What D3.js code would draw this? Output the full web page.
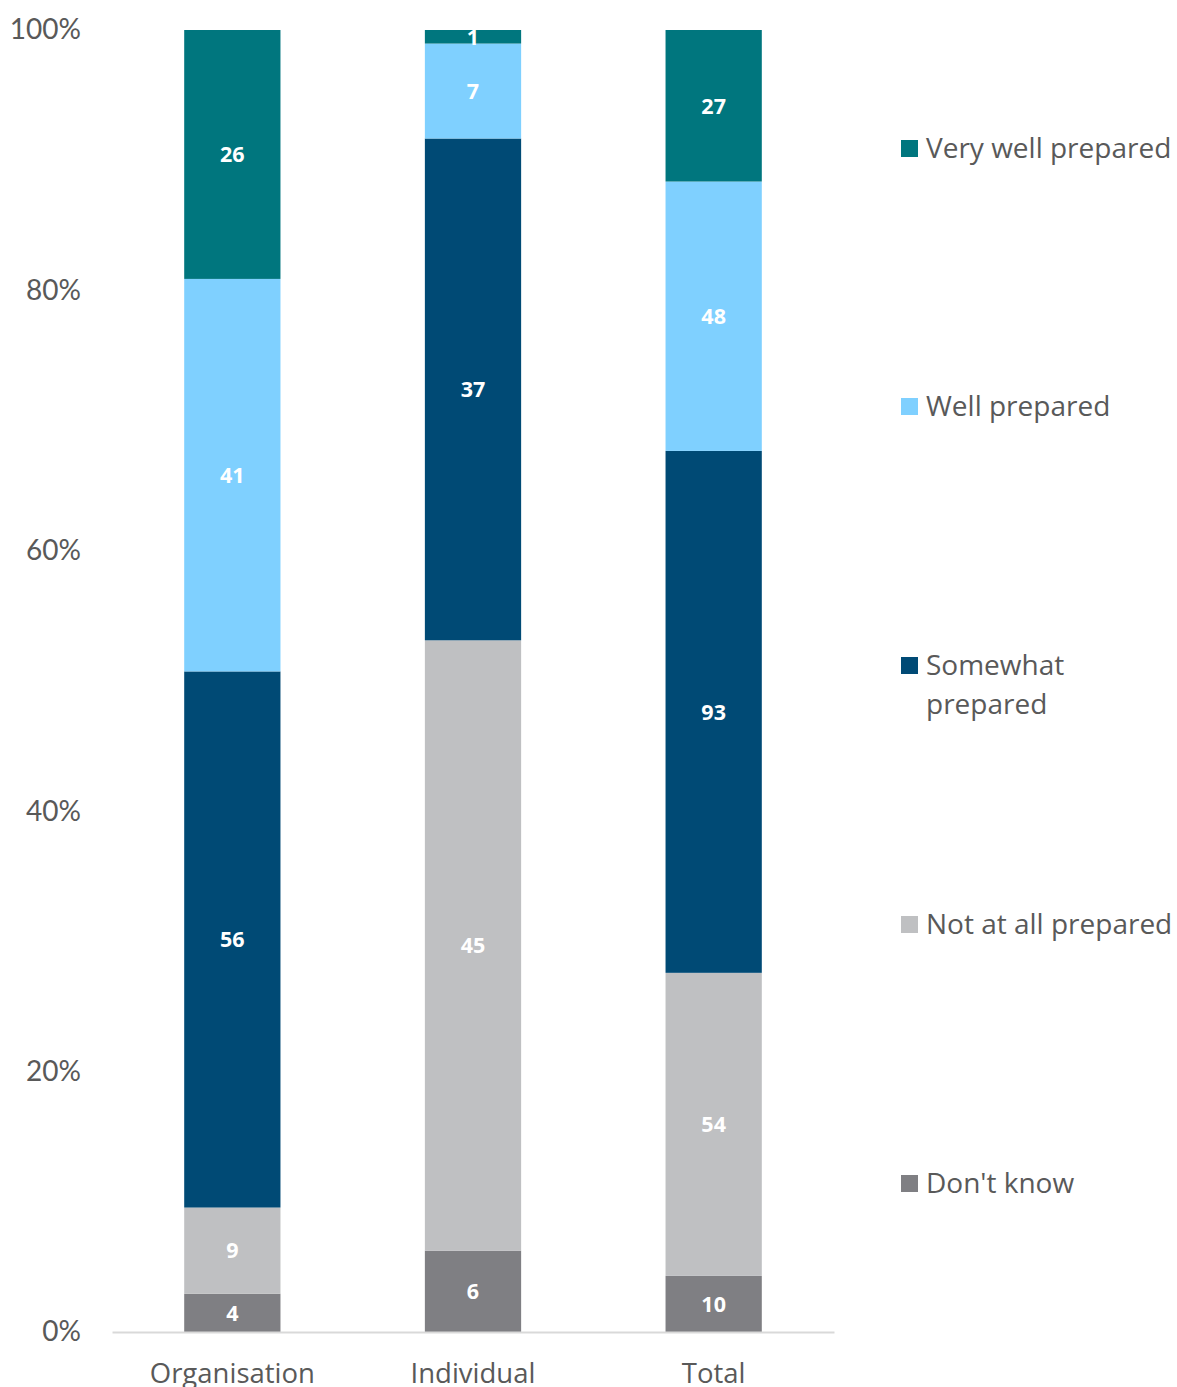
<!DOCTYPE html>
<html>
<head>
<meta charset="utf-8">
<script src="https://cdn.jsdelivr.net/npm/d3@7"></script>
<style>
  html, body { margin: 0; padding: 0; background: #fff; }
  svg { display: block; }
</style>
</head>
<body>
<svg id="chart" width="1177" height="1387"></svg>
<script>
// Respondent groups along the x axis
const categories = ["Organisation", "Individual", "Total"];

// Response levels, bottom of the stack first
const seriesNames = ["Don't know", "Not at all prepared", "Somewhat prepared", "Well prepared", "Very well prepared"];

// Counts per response level, one entry per group
const dontKnow      = [4, 6, 10];
const notAtAll      = [9, 45, 54];
const somewhat      = [56, 37, 93];
const wellPrepared  = [41, 7, 48];
const veryWell      = [26, 1, 27];

// Y axis tick labels
const yTicks = [0, 0.2, 0.4, 0.6, 0.8, 1.0];

const colors = {
  "Don't know": "#7f7f83",
  "Not at all prepared": "#bfc0c2",
  "Somewhat prepared": "#004a75",
  "Well prepared": "#7fd0ff",
  "Very well prepared": "#00767e"
};

const seriesValues = [dontKnow, notAtAll, somewhat, wellPrepared, veryWell];
const rows = categories.map((c, i) => {
  const r = { category: c };
  seriesNames.forEach((s, j) => { r[s] = seriesValues[j][i]; });
  return r;
});

const svg = d3.select("#chart");

const x = d3.scaleBand()
  .domain(categories)
  .range([112, 834])
  .paddingInner(0.6)
  .paddingOuter(0.3);

const y = d3.scaleLinear().domain([0, 1]).range([1332, 30]);

const stacked = d3.stack()
  .keys(seriesNames)
  .offset(d3.stackOffsetExpand)(rows);

// Y axis labels
const yAxis = d3.axisLeft(y)
  .tickValues(yTicks)
  .tickFormat(d3.format(".0%"))
  .tickSize(0)
  .tickPadding(0);

svg.append("g")
  .attr("transform", "translate(81,0)")
  .call(yAxis)
  .call(g => g.select(".domain").remove())
  .call(g => g.selectAll("text")
    .attr("fill", "#595959")
    .style("font-family", "Lato, 'Open Sans', sans-serif")
    .style("font-size", "28px"));

// Stacked segments
const layers = svg.append("g").selectAll("g")
  .data(stacked)
  .join("g")
  .attr("fill", d => colors[d.key]);

layers.selectAll("rect")
  .data(d => d)
  .join("rect")
  .attr("x", d => x(d.data.category))
  .attr("width", x.bandwidth())
  .attr("y", d => y(d[1]))
  .attr("height", d => y(d[0]) - y(d[1]));

// Value labels
const labels = svg.append("g")
  .style("font-family", "'Open Sans', sans-serif")
  .style("font-weight", "bold")
  .style("font-size", "21.5px")
  .attr("fill", "#ffffff")
  .attr("text-anchor", "middle");

stacked.forEach(layer => {
  layer.forEach(d => {
    labels.append("text")
      .attr("x", x(d.data.category) + x.bandwidth() / 2)
      .attr("y", (y(d[0]) + y(d[1])) / 2)
      .attr("dy", "0.36em")
      .text(d.data[layer.key]);
  });
});

// X axis baseline and category labels
const xAxis = d3.axisBottom(x).tickSize(0).tickPadding(0);
svg.append("g")
  .attr("transform", "translate(0,1332)")
  .call(xAxis)
  .call(g => g.select(".domain")
    .attr("stroke", "#d9d9d9")
    .attr("stroke-width", 2))
  .call(g => g.selectAll("text")
    .attr("fill", "#595959")
    .attr("y", 51)
    .attr("dy", 0)
    .style("font-family", "'Open Sans', sans-serif")
    .style("font-size", "27.5px"));

// Legend, top series first
const legendItems = [
  { key: "Very well prepared", lines: ["Very well prepared"], cy: 148 },
  { key: "Well prepared", lines: ["Well prepared"], cy: 406 },
  { key: "Somewhat prepared", lines: ["Somewhat", "prepared"], cy: 665 },
  { key: "Not at all prepared", lines: ["Not at all prepared"], cy: 924 },
  { key: "Don't know", lines: ["Don't know"], cy: 1183 }
];

const legend = svg.append("g")
  .style("font-family", "'Open Sans', sans-serif")
  .style("font-size", "28px");

legendItems.forEach(item => {
  legend.append("rect")
    .attr("x", 901)
    .attr("y", item.cy - 8)
    .attr("width", 17)
    .attr("height", 17)
    .attr("fill", colors[item.key]);
  item.lines.forEach((line, i) => {
    legend.append("text")
      .attr("x", 926)
      .attr("y", item.cy + i * 39)
      .attr("dy", "0.36em")
      .attr("fill", "#595959")
      .text(line);
  });
});
</script>
</body>
</html>
